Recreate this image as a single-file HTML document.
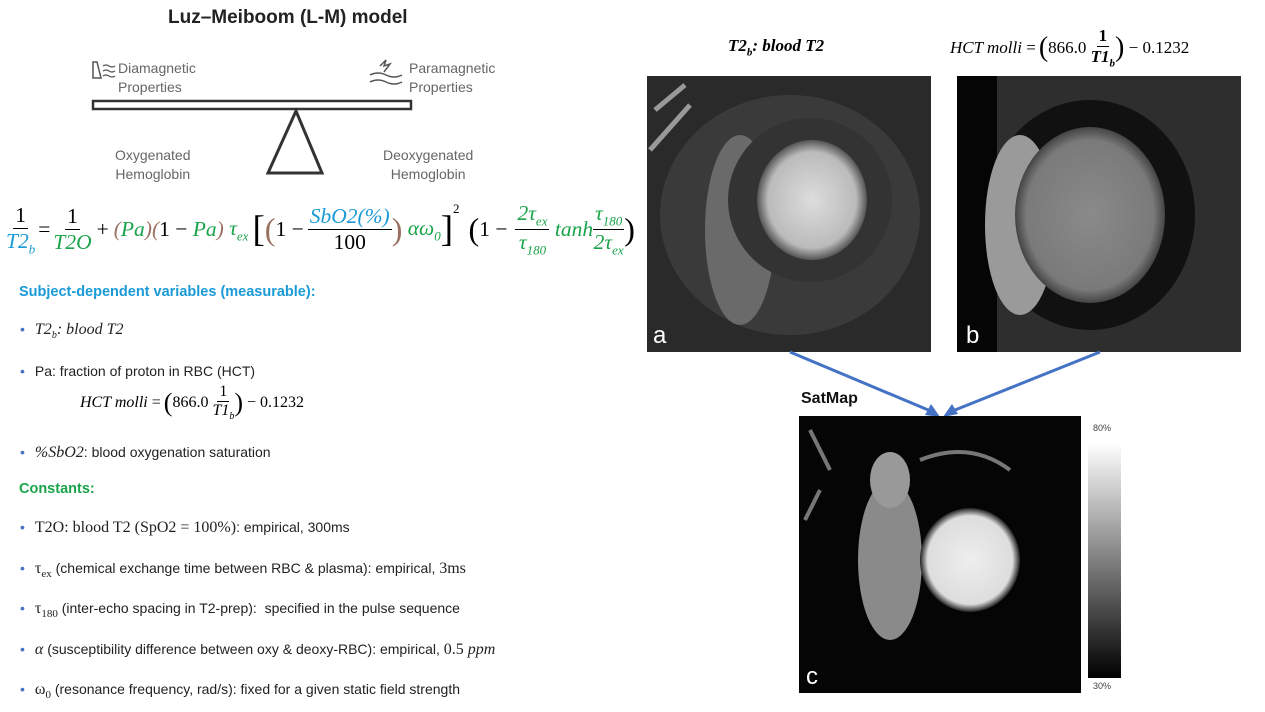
<!DOCTYPE html>
<html><head><meta charset="utf-8"><style>
body{margin:0;width:1265px;height:712px;background:#fff;position:relative;overflow:hidden;font-family:"Liberation Sans",sans-serif;}
.a{position:absolute;white-space:nowrap;}
.m{font-family:"Liberation Serif",serif;font-style:italic;}
.r{font-family:"Liberation Serif",serif;}
.g{color:#1aa34a}.b{color:#1a9ad6}.br{color:#9a7060}
.fr{display:inline-flex;flex-direction:column;align-items:center;vertical-align:middle;}
.fr>span:first-child{border-bottom:1.5px solid #000;padding:0 2px;}
.li{font-size:14px;color:#222;}
.dot{color:#4472c4;margin-right:10px;}
.gl{color:#666;font-size:14px;line-height:19px;}
</style></head><body>
<div class="a" style="left:168px;top:7px;font-size:19px;font-weight:bold;color:#222">Luz–Meiboom (L-M) model</div>
<svg class="a" style="left:0;top:0" width="640" height="200">
 <path d="M93 62 L93 78 L101 78 L97 62 Z" fill="none" stroke="#555" stroke-width="1.5"/>
 <path d="M103 66 q3 -2 6 0 t6 0 M103 71 q3 -2 6 0 t6 0 M103 76 q3 -2 6 0 t6 0" fill="none" stroke="#555" stroke-width="1.3"/>
 <path d="M370 75 q8 -4 16 0 t16 0 M370 82 q8 -4 16 0 t16 0 M380 66 l6 -6 l-2 6 l6 -2 l-6 8" fill="none" stroke="#555" stroke-width="1.5"/>
 <rect x="93" y="101" width="318" height="8" fill="#fff" stroke="#333" stroke-width="2.5"/>
 <path d="M296 111 L268 173 L322 173 Z" fill="none" stroke="#333" stroke-width="3"/>
</svg>
<div class="a gl" style="left:118px;top:59px">Diamagnetic<br>Properties</div>
<div class="a gl" style="left:409px;top:59px">Paramagnetic<br>Properties</div>
<div class="a gl" style="left:115px;top:146px;text-align:center">Oxygenated<br>Hemoglobin</div>
<div class="a gl" style="left:383px;top:146px;text-align:center">Deoxygenated<br>Hemoglobin</div>

<div class="a m" style="left:6px;top:201px;font-size:21.5px;display:flex;align-items:center;">
 <span class="fr"><span style="font-style:normal">1</span><span class="b">T2<sub style="font-size:13px">b</sub></span></span>
 <span style="font-style:normal;margin:0 3px">=</span>
 <span class="fr"><span style="font-style:normal">1</span><span class="g">T2O</span></span>
 <span style="font-style:normal;margin:0 5px">+</span>
 <span class="br">(</span><span class="g">Pa</span><span class="br">)(</span><span style="font-style:normal">1 − </span><span class="g">&nbsp;Pa</span><span class="br">)</span>
 <span class="g">&nbsp;τ<sub style="font-size:13px">ex</sub></span>
 <span style="font-size:37px;font-style:normal;margin-left:4px">[</span><span class="br" style="font-size:32px;font-style:normal">(</span><span style="font-style:normal">1 − </span>
 <span class="fr" style="margin-left:4px"><span class="b">SbO2(%)</span><span style="font-style:normal">100</span></span>
 <span class="br" style="font-size:32px;font-style:normal">)</span><span class="g">&nbsp;αω<sub style="font-size:13px">0</sub></span><span style="font-size:37px;font-style:normal">]</span><sup style="font-size:13px;font-style:normal;align-self:flex-start">2</sup>
 <span style="font-size:32px;font-style:normal;margin-left:9px">(</span><span style="font-style:normal">1 − </span>
 <span class="fr g" style="margin-left:8px"><span>2τ<sub style="font-size:13px">ex</sub></span><span>τ<sub style="font-size:13px">180</sub></span></span>
 <span class="g">&nbsp;tanh</span>
 <span class="fr g"><span>τ<sub style="font-size:13px">180</sub></span><span>2τ<sub style="font-size:13px">ex</sub></span></span>
 <span style="font-size:32px;font-style:normal">)</span>
</div>

<div class="a" style="left:19px;top:284px;font-size:14.5px;font-weight:bold;color:#1a9ad6">Subject-dependent variables (measurable):</div>
<div class="a li" style="left:20px;top:321px"><span class="dot">•</span><span class="m" style="font-size:16px">T2<sub style="font-size:10px">b</sub>: blood T2</span></div>
<div class="a li" style="left:20px;top:363px"><span class="dot">•</span>Pa: fraction of proton in RBC (HCT)</div>
<div class="a r" style="left:80px;top:383px;font-size:16px;display:flex;align-items:center"><i>HCT molli</i>&nbsp;= <span style="font-size:26px;margin-left:3px">(</span>866.0&nbsp;<span class="fr"><span>1</span><i>T1<sub style="font-size:10px">b</sub></i></span><span style="font-size:26px">)</span>&nbsp;− 0.1232</div>
<div class="a li" style="left:20px;top:444px"><span class="dot">•</span><span class="m" style="font-size:16px">%SbO2</span>: blood oxygenation saturation</div>
<div class="a" style="left:19px;top:481px;font-size:14.5px;font-weight:bold;color:#1aa34a">Constants:</div>
<div class="a li" style="left:20px;top:519px"><span class="dot">•</span><span class="r" style="font-size:16px">T2O: blood T2 (SpO2 = 100%)</span>: empirical, 300ms</div>
<div class="a li" style="left:20px;top:560px"><span class="dot">•</span><span class="r" style="font-size:16px">τ<sub style="font-size:11px">ex</sub></span> (chemical exchange time between RBC &amp; plasma): empirical, <span class="r" style="font-size:16px">3ms</span></div>
<div class="a li" style="left:20px;top:600px"><span class="dot">•</span><span class="r" style="font-size:16px">τ<sub style="font-size:11px">180</sub></span> (inter-echo spacing in T2-prep):&nbsp; specified in the pulse sequence</div>
<div class="a li" style="left:20px;top:641px"><span class="dot">•</span><span class="m" style="font-size:16px">α</span> (susceptibility difference between oxy &amp; deoxy-RBC): empirical, <span class="r" style="font-size:16px">0.5 <i>ppm</i></span></div>
<div class="a li" style="left:20px;top:681px"><span class="dot">•</span><span class="r" style="font-size:16px">ω<sub style="font-size:11px">0</sub></span> (resonance frequency, rad/s): fixed for a given static field strength</div>

<div class="a r" style="left:728px;top:36px;font-size:17px;font-weight:bold;font-style:italic">T2<sub style="font-size:11px">b</sub>: blood T2</div>
<div class="a r" style="left:950px;top:26px;font-size:17px;display:flex;align-items:center"><i>HCT molli</i>&nbsp;= <span style="font-size:28px;margin-left:3px">(</span>866.0&nbsp;<span class="fr" style="font-weight:bold"><span>1</span><i>T1<sub style="font-size:11px">b</sub></i></span><span style="font-size:28px">)</span>&nbsp;− 0.1232</div>

<svg class="a" style="left:0;top:0" width="1265" height="712">
 <defs>
  <radialGradient id="lv"><stop offset="0" stop-color="#ddd"/><stop offset=".8" stop-color="#bbb"/><stop offset="1" stop-color="#555"/></radialGradient>
  <radialGradient id="lvb"><stop offset="0" stop-color="#8a8a8a"/><stop offset=".85" stop-color="#7a7a7a"/><stop offset="1" stop-color="#444"/></radialGradient>
  <radialGradient id="lvc"><stop offset="0" stop-color="#eee"/><stop offset=".85" stop-color="#ddd"/><stop offset="1" stop-color="#222"/></radialGradient>
  <linearGradient id="cb" x1="0" y1="0" x2="0" y2="1"><stop offset="0" stop-color="#fff"/><stop offset="1" stop-color="#000"/></linearGradient>
 </defs>
 <rect x="647" y="76" width="284" height="276" fill="#2a2a2a"/>
 <ellipse cx="790" cy="215" rx="130" ry="120" fill="#3a3a3a"/>
 <ellipse cx="740" cy="230" rx="35" ry="95" fill="#6a6a6a"/>
 <ellipse cx="810" cy="200" rx="82" ry="82" fill="#333"/>
 <ellipse cx="812" cy="200" rx="55" ry="60" fill="url(#lv)"/>
 <path d="M655 110 l30 -25 M650 150 l40 -45" stroke="#999" stroke-width="5"/>
 <text x="653" y="343" font-size="24" fill="#fff" font-family="Liberation Sans">a</text>
 <rect x="957" y="76" width="284" height="276" fill="#2e2e2e"/>
 <rect x="957" y="76" width="40" height="276" fill="#050505"/>
 <ellipse cx="1090" cy="215" rx="105" ry="115" fill="#111"/>
 <ellipse cx="1020" cy="225" rx="35" ry="90" fill="#9a9a9a"/>
 <ellipse cx="1090" cy="215" rx="75" ry="88" fill="url(#lvb)"/>
 <text x="966" y="343" font-size="24" fill="#fff" font-family="Liberation Sans">b</text>
 <g stroke="#4472c4" stroke-width="3" fill="#4472c4">
  <line x1="790" y1="352" x2="933" y2="412"/>
  <line x1="1100" y1="352" x2="950" y2="412"/>
 </g>
 <path d="M940 417 L925 415 L931 404 Z" fill="#4472c4"/>
 <path d="M943 417 L952 404 L958 414 Z" fill="#4472c4"/>
 <rect x="799" y="416" width="282" height="277" fill="#050505"/>
 <ellipse cx="890" cy="560" rx="32" ry="80" fill="#8a8a8a"/>
 <ellipse cx="890" cy="480" rx="20" ry="28" fill="#999"/>
 <ellipse cx="970" cy="560" rx="50" ry="52" fill="url(#lvc)"/>
 <path d="M810 430 l20 40 M805 520 l15 -30 M920 460 q50 -20 90 10" stroke="#777" stroke-width="4" fill="none"/>
 <text x="806" y="684" font-size="24" fill="#fff" font-family="Liberation Sans">c</text>
 <rect x="1088" y="443" width="33" height="235" fill="url(#cb)"/>
</svg>
<div class="a" style="left:1093px;top:423px;font-size:9px;color:#444">80%</div>
<div class="a" style="left:1093px;top:681px;font-size:9px;color:#444">30%</div>
<div class="a" style="left:801px;top:390px;font-size:16px;font-weight:bold;color:#111">SatMap</div>
</body></html>
